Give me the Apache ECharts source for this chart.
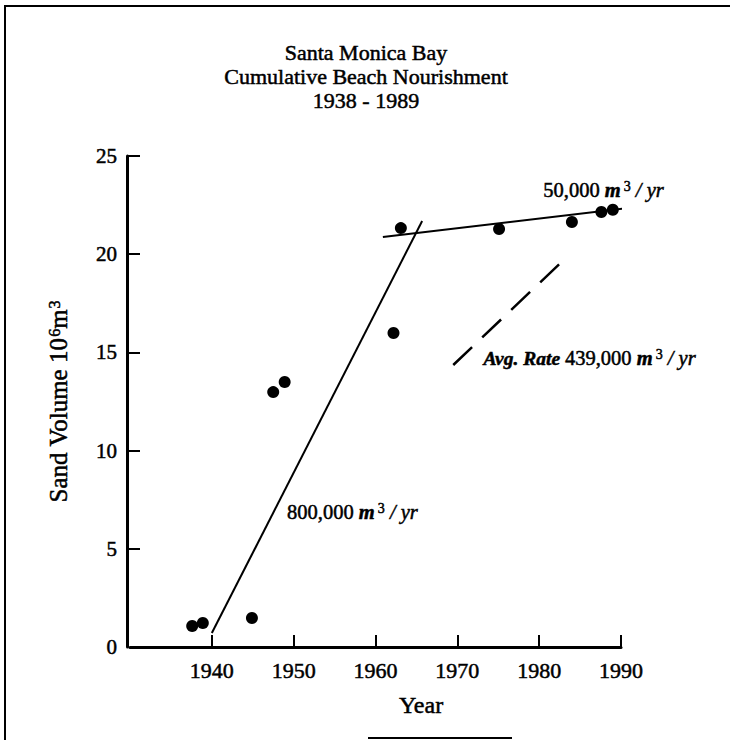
<!DOCTYPE html>
<html><head><meta charset="utf-8">
<script src="https://cdn.jsdelivr.net/npm/echarts@6/dist/echarts.min.js"></script>
<style>html,body{margin:0;padding:0;background:#fff}#c{width:730px;height:740px}</style>
</head><body><div id="c"></div>
<script>
// ---- data ----
const titleLines = ['Santa Monica Bay', 'Cumulative Beach Nourishment', '1938 - 1989'];
const xTicks = [1940, 1950, 1960, 1970, 1980, 1990];
const yTicks = [0, 5, 10, 15, 20, 25];
const obsYears  = [1937.6, 1938.9, 1944.9, 1947.5, 1948.9, 1962.2, 1963.1, 1975.1, 1984.0, 1987.6, 1989.0];
const obsVolume = [1.07, 1.22, 1.48, 12.98, 13.49, 15.99, 21.33, 21.28, 21.64, 22.15, 22.26];
const fit800kYears  = [1940.0, 1965.7];
const fit800kVolume = [0.71, 21.69];
const fit50kYears  = [1960.9, 1993.9];
const fit50kVolume = [20.88, 22.5];
const avgRateYears  = [1969.5, 1982.6];
const avgRateVolume = [14.36, 19.55];
const noteYears  = [1980.5, 1973.2, 1949.2];
const noteVolume = [23.27, 14.71, 6.87];
const noteTexts = [
  '{n|50,000 }{i|m}{s|3}{n| }{it|/ yr}',
  '{bi|Avg. Rate }{n|439,000 }{i|m}{s|3}{n| }{it|/ yr}',
  '{n|800,000 }{i|m}{s|3}{n| }{it|/ yr}'
];
const xName = 'Year';
const yNameRich = '{a|Sand Volume 10}{s|6}{a|m}{s|3}';

// ---- build ----
const F = '"Liberation Serif", "Times New Roman", serif';
const B = {textBorderColor: '#000', textBorderWidth: 0.5};
const pairs = (xs, ys) => xs.map((x, i) => [x, ys[i]]);
const noteRich = {
  n:  Object.assign({fontFamily: F, fontSize: 20.5, color: '#000'}, B),
  i:  Object.assign({fontFamily: F, fontSize: 20.5, color: '#000', fontStyle: 'italic', fontWeight: 'bold'}, B),
  it: Object.assign({fontFamily: F, fontSize: 20.5, color: '#000', fontStyle: 'italic'}, B),
  bi: Object.assign({fontFamily: F, fontSize: 19.5, color: '#000', fontStyle: 'italic', fontWeight: 'bold'}, B),
  s:  Object.assign({fontFamily: F, fontSize: 14, color: '#000', verticalAlign: 'top', padding: [0, 0, 7, 3]}, B)
};

const chart = echarts.init(document.getElementById('c'), null, {renderer: 'svg'});
chart.setOption({
  backgroundColor: '#fff',
  animation: false,
  grid: {left: 130, right: 109, top: 156, bottom: 93, containLabel: false},
  xAxis: {
    type: 'value', min: 1930, max: 1990, interval: 10,
    axisLine: {show: true, lineStyle: {color: '#000', width: 3}},
    axisTick: {show: true, inside: true, length: 12, lineStyle: {color: '#000', width: 2}, customValues: xTicks},
    axisLabel: Object.assign({customValues: xTicks, formatter: v => String(v), fontFamily: F, fontSize: 22, color: '#000', margin: 12}, B),
    splitLine: {show: false}
  },
  yAxis: {
    type: 'value', min: 0, max: 25, interval: 5, offset: 3,
    axisLine: {show: true, lineStyle: {color: '#000', width: 3}},
    axisTick: {show: true, inside: true, length: 13, lineStyle: {color: '#000', width: 2}, customValues: yTicks.slice(1)},
    axisLabel: Object.assign({customValues: yTicks, formatter: v => String(v), fontFamily: F, fontSize: 21, color: '#000', margin: 10}, B),
    splitLine: {show: false},
    name: yNameRich, nameLocation: 'middle', nameGap: 56, nameRotate: 90,
    nameTextStyle: {color: '#000', rich: {
      a: Object.assign({fontFamily: F, fontSize: 25, color: '#000'}, B),
      s: Object.assign({fontFamily: F, fontSize: 16, color: '#000', verticalAlign: 'top', padding: [0, 0, 9, 1]}, B)
    }}
  },
  graphic: [
    {type: 'polyline', silent: true, shape: {points: [[5, 740], [5, 6], [730, 6]]}, style: {stroke: '#000', lineWidth: 2, fill: null}},
    {type: 'line', silent: true, shape: {x1: 368, y1: 738, x2: 512, y2: 738}, style: {stroke: '#000', lineWidth: 2}},
    {type: 'text', x: 366, y: 40, style: {text: titleLines.join('\n'), fontFamily: F, fontSize: 22, lineHeight: 24, fill: '#000', stroke: '#000', lineWidth: 0.5, align: 'center', verticalAlign: 'top'}},
    {type: 'text', x: 421, y: 705, style: {text: xName, fontFamily: F, fontSize: 24, fill: '#000', stroke: '#000', lineWidth: 0.5, align: 'center', verticalAlign: 'middle'}}
  ],
  series: [
    {type: 'line', data: pairs(fit800kYears, fit800kVolume), showSymbol: false, silent: true, lineStyle: {color: '#000', width: 2}},
    {type: 'line', data: pairs(fit50kYears, fit50kVolume), showSymbol: false, silent: true, clip: false, lineStyle: {color: '#000', width: 2}},
    {type: 'line', data: pairs(avgRateYears, avgRateVolume), showSymbol: false, silent: true, lineStyle: {color: '#000', width: 2.5, type: [26, 14]}},
    {type: 'scatter', data: pairs(obsYears, obsVolume), symbol: 'circle', symbolSize: 12, itemStyle: {color: '#000', opacity: 1}, silent: true},
    {type: 'scatter', silent: true, clip: false, symbolSize: 0, itemStyle: {color: '#000', opacity: 1},
     data: noteYears.map((x, i) => ({value: [x, noteVolume[i]], label: {formatter: noteTexts[i]}})),
     label: {show: true, position: 'right', distance: 0, color: '#000', opacity: 1, rich: noteRich}}
  ]
});
</script></body></html>
